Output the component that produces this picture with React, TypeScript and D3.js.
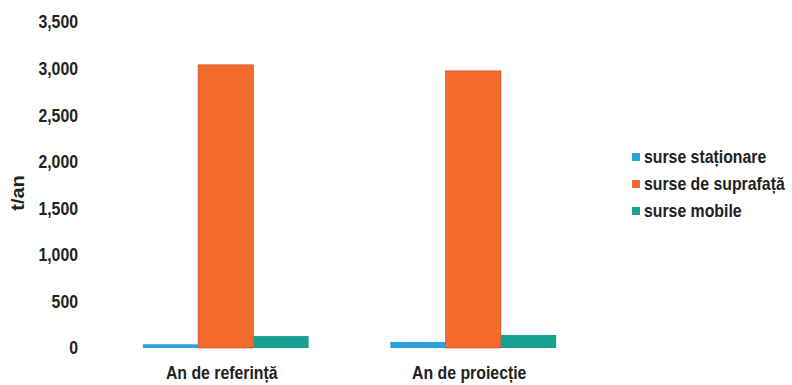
import React from 'react';
import * as d3 from 'd3';

const categories = ['An de referință', 'An de proiecție'];
const seriesNames = ['surse staționare', 'surse de suprafață', 'surse mobile'];
const stationare = [40, 65];
const suprafata = [3040, 2975];
const mobile = [128, 140];
const yTicks = [0, 500, 1000, 1500, 2000, 2500, 3000, 3500];
const colors = ['#2aa2dc', '#f26a2c', '#18a091'];

const font = "'Liberation Sans', Arial, sans-serif";
const squeeze = 0.88; // the original uses a condensed face

const App = () => {
  const width = 792;
  const height = 385;
  const values = [stationare, suprafata, mobile];

  const x = d3.scaleBand().domain(categories).range([102, 597]).paddingInner(0.33).paddingOuter(0.165);
  const xs = d3.scaleBand().domain(seriesNames).range([0, x.bandwidth()]);
  const y = d3.scaleLinear().domain([0, 3500]).range([348, 22]);
  const fmt = d3.format(',');

  return (
    <svg width={width} height={height} style={{ position: 'absolute', left: 0, top: 0, background: '#fff' }}>
      <g fontFamily={font} fontWeight="bold" fill="#222" fontSize={18}>
        {yTicks.map(t => (
          <text key={t} transform={`translate(78,${y(t)}) scale(${squeeze},1)`} dy="0.36em" textAnchor="end">{fmt(t)}</text>
        ))}
        <text transform={`translate(17,193) rotate(-90) scale(1.05,1)`} textAnchor="middle" dy="0.35em" fontSize={19}>t/an</text>
      </g>
      {categories.map((c, i) => (
        <g key={c} transform={`translate(${x(c)},0)`}>
          {seriesNames.map((s, j) => {
            const v = values[j][i];
            return (
              <rect key={s} x={xs(s)} y={y(v)} width={xs.bandwidth()} height={y(0) - y(v)}
                fill={colors[j]} stroke={j === 1 ? '#b84a1c' : 'none'} strokeWidth={j === 1 ? 0.6 : 0} />
            );
          })}
          <text transform={`translate(${x.bandwidth() / 2 - 4},379) scale(${squeeze},1)`} textAnchor="middle"
            fontFamily={font} fontWeight="bold" fontSize={18} fill="#222">{c}</text>
        </g>
      ))}
      <g fontFamily={font} fontWeight="bold" fontSize={18} fill="#222">
        {seriesNames.map((s, j) => (
          <g key={s} transform={`translate(632,${157 + j * 27})`}>
            <rect x={0} y={-4} width={8} height={8} fill={colors[j]} />
            <text transform={`translate(12,0) scale(${squeeze},1)`} dy="0.35em">{s}</text>
          </g>
        ))}
      </g>
    </svg>
  );
};

export default App;
